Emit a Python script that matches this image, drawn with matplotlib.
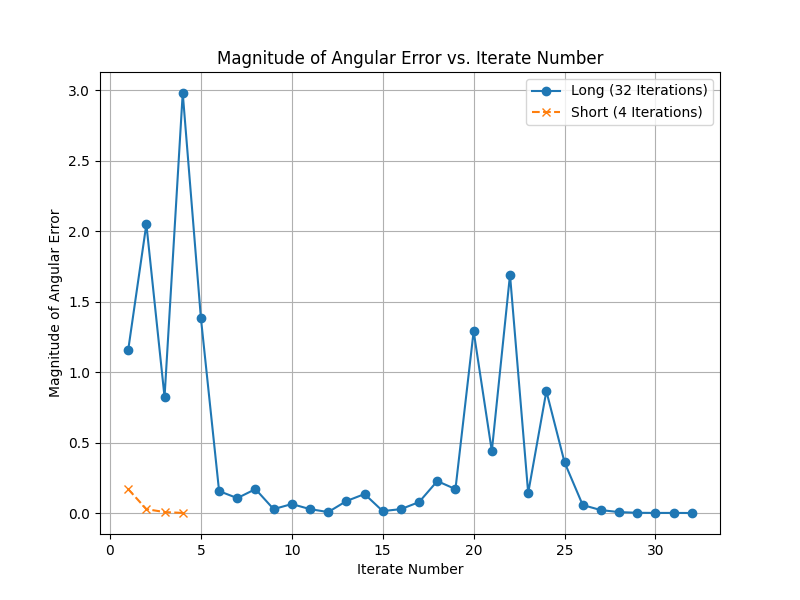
import matplotlib
matplotlib.use("Agg")
import matplotlib.pyplot as plt

long_err = [1.156, 2.05, 0.823, 2.98, 1.383, 0.156, 0.106, 0.17, 0.028, 0.064,
            0.028, 0.007, 0.085, 0.135, 0.014, 0.028, 0.078, 0.227, 0.17, 1.29,
            0.44, 1.69, 0.142, 0.865, 0.36, 0.057, 0.021, 0.007, 0.002, 0.001,
            0.001, 0.0005]
short_err = [0.17, 0.028, 0.007, 0.001]
long_iters = list(range(1, len(long_err) + 1))
short_iters = list(range(1, len(short_err) + 1))

fig, ax = plt.subplots(figsize=(8, 6), dpi=100)
ax.plot(long_iters, long_err, "o-", label="Long (32 Iterations)")
ax.plot(short_iters, short_err, "x--", label="Short (4 Iterations)")
ax.set_title("Magnitude of Angular Error vs. Iterate Number")
ax.set_xlabel("Iterate Number")
ax.set_ylabel("Magnitude of Angular Error")
ax.grid(True)
ax.legend()
fig.savefig("out.png")
